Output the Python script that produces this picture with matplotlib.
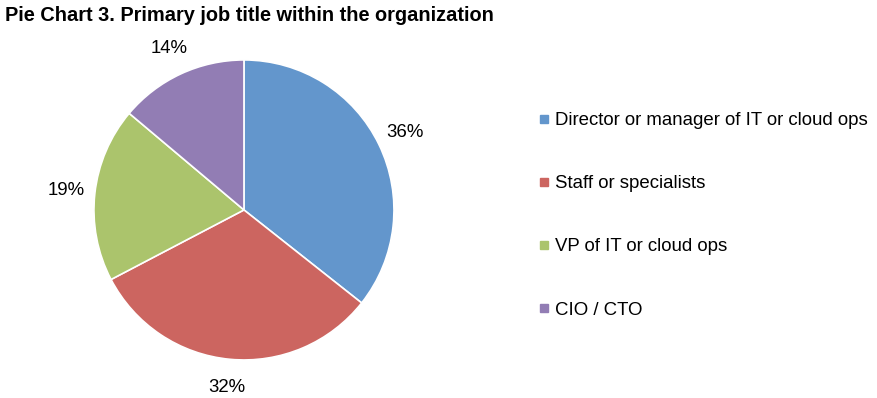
import matplotlib
matplotlib.use("Agg")
import matplotlib.pyplot as plt
from matplotlib.lines import Line2D

plt.rcParams["font.family"] = ["Liberation Sans", "DejaVu Sans"]

# ── Data ──────────────────────────────────────────────────────────────────────
categories = ["Director or manager of IT or cloud ops", "Staff or specialists",
              "VP of IT or cloud ops", "CIO / CTO"]
values = [36, 32, 19, 14]
pct_labels = ["36%", "32%", "19%", "14%"]
colors = ["#6396CC", "#CC6560", "#ABC46C", "#927DB4"]

fig = plt.figure(figsize=(8.78, 3.98), dpi=100)
fig.patch.set_facecolor("white")

fig.text(0.006, 0.985, "Pie Chart 3. Primary job title within the organization",
         ha="left", va="top", fontsize=14.4, fontweight="bold", color="black")

ax = fig.add_axes([0.107, 0.0955, 0.3417, 0.754])
wedges, texts = ax.pie(values, labels=pct_labels, colors=colors,
                       startangle=90, counterclock=False, labeldistance=1.19,
                       wedgeprops=dict(edgecolor="white", linewidth=1.2),
                       textprops=dict(fontsize=13.4, color="black"))
for t in texts:
    t.set_ha("center")
    t.set_va("center")
ax.set_xlim(-1, 1)
ax.set_ylim(-1, 1)
ax.set_aspect("equal")

handles = [Line2D([0], [0], marker="s", linestyle="none", markersize=6,
                  markerfacecolor=c, markeredgecolor=c) for c in colors]
fig.legend(handles, categories, loc="upper left", bbox_to_anchor=(0.603, 0.742),
           frameon=False, fontsize=13.4, handlelength=0.6, handletextpad=0.25,
           labelspacing=2.48, borderpad=0)

fig.savefig("out.png", dpi=100, facecolor="white")
